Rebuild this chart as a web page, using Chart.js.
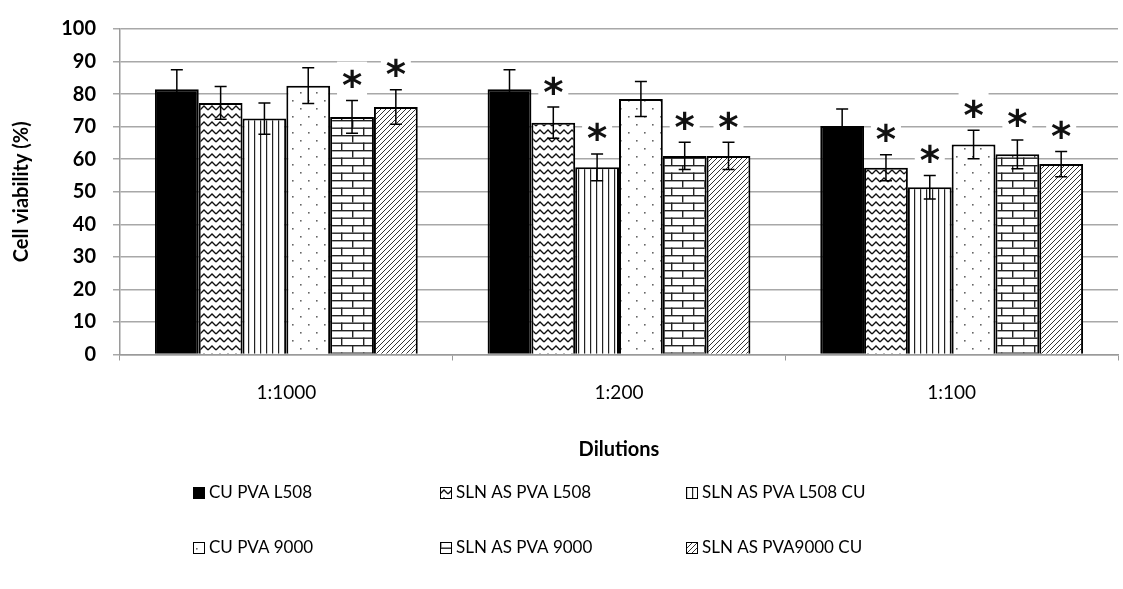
<!DOCTYPE html>
<html>
<head>
<meta charset="utf-8">
<script src="https://cdn.jsdelivr.net/npm/chart.js@4.4.1/dist/chart.umd.min.js"></script>
<style>
  html, body { margin: 0; padding: 0; background: #fff; }
  #wrap { width: 1123px; height: 589px; }
</style>
</head>
<body>
<div id="wrap"><canvas id="chart" width="1123" height="589"></canvas></div>
<script>
// categories
const dilutions = ["1:1000", "1:200", "1:100"];

// series names
const seriesNames = ["CU PVA L508", "SLN AS PVA L508", "SLN AS PVA L508 CU",
                     "CU PVA 9000", "SLN AS PVA 9000", "SLN AS PVA9000 CU"];

// mean cell viability (%)
const cuPvaL508      = [81.5, 81.5, 70.2];
const slnPvaL508     = [77.3, 71.2, 57.4];
const slnPvaL508Cu   = [72.5, 57.5, 51.4];
const cuPva9000      = [82.6, 78.5, 64.5];
const slnPva9000     = [73.0, 61.0, 61.5];
const slnPva9000Cu   = [76.0, 61.0, 58.5];

// standard deviations
const cuPvaL508Sd    = [6.0, 6.0, 5.2];
const slnPvaL508Sd   = [5.0, 4.8, 4.0];
const slnPvaL508CuSd = [4.8, 4.1, 3.6];
const cuPva9000Sd    = [5.5, 5.4, 4.4];
const slnPva9000Sd   = [5.0, 4.2, 4.4];
const slnPva9000CuSd = [5.3, 4.2, 3.9];

// significance marks (1 = asterisk)
const cuPvaL508Sig    = [0, 0, 0];
const slnPvaL508Sig   = [0, 1, 1];
const slnPvaL508CuSig = [0, 1, 1];
const cuPva9000Sig    = [0, 0, 1];
const slnPva9000Sig   = [1, 1, 1];
const slnPva9000CuSig = [1, 1, 1];

// y ticks
const yMin = 0, yMax = 100, yStep = 10;

const FONT = "Lato, 'Open Sans', sans-serif";

//--- fill patterns, like the old excel ones
function makePattern(w, h, draw){
    const c = document.createElement("canvas");
    c.width = w; c.height = h;
    const g = c.getContext("2d");
    g.fillStyle = "#fff";
    g.fillRect(0, 0, w, h);
    draw(g);
    return c.getContext("2d").createPattern(c, "repeat");
}

const patSolid = "#000";
const patZigzag = makePattern(8, 8, g => {
    g.strokeStyle = "#111"; g.lineWidth = 1.3;
    g.beginPath(); g.moveTo(0, 6); g.lineTo(4, 2); g.lineTo(8, 6); g.stroke();
});
const patVertical = makePattern(6, 4, g => {
    g.fillStyle = "#222"; g.fillRect(2, 0, 1.2, 4);
});
const patDots = makePattern(16, 16, g => {
    g.fillStyle = "#666";
    g.fillRect(4, 4, 1.6, 1.6);
    g.fillRect(12, 12, 1.6, 1.6);
});
const patBrick = makePattern(22, 15, g => {
    g.fillStyle = "#222";
    g.fillRect(0, 0, 22, 1.4);
    g.fillRect(0, 7.5, 22, 1.4);
    g.fillRect(0, 0, 1.4, 7.5);
    g.fillRect(11, 7.5, 1.4, 7.5);
});
const patDiagonal = makePattern(5, 5, g => {
    g.strokeStyle = "#333"; g.lineWidth = 1;
    g.beginPath();
    g.moveTo(-1, 6); g.lineTo(6, -1);
    g.moveTo(-1, 1); g.lineTo(1, -1);
    g.moveTo(4, 6); g.lineTo(6, 4);
    g.stroke();
});

const values = [cuPvaL508, slnPvaL508, slnPvaL508Cu, cuPva9000, slnPva9000, slnPva9000Cu];
const sds = [cuPvaL508Sd, slnPvaL508Sd, slnPvaL508CuSd, cuPva9000Sd, slnPva9000Sd, slnPva9000CuSd];
const sigs = [cuPvaL508Sig, slnPvaL508Sig, slnPvaL508CuSig, cuPva9000Sig, slnPva9000Sig, slnPva9000CuSig];
const fills = [patSolid, patZigzag, patVertical, patDots, patBrick, patDiagonal];

const datasets = values.map((v, i) => ({
    label: seriesNames[i],
    data: v,
    sd: sds[i],
    sig: sigs[i],
    backgroundColor: fills[i],
    borderColor: "#000",
    borderWidth: 2,
    borderSkipped: "bottom"
}));

//error bars + asterisks
const errorBars = {
    id: "errorBars",
    afterDatasetsDraw(chart){
        const ctx = chart.ctx;
        const y = chart.scales.y;
        ctx.save();
        // size the asterisk so it's about 19px wide
        ctx.font = "bold 100px 'DejaVu Sans'";
        const m = ctx.measureText("*");
        const starSize = 100 * 19 / (m.actualBoundingBoxLeft + m.actualBoundingBoxRight);
        chart.data.datasets.forEach((ds, i) => {
            const meta = chart.getDatasetMeta(i);
            meta.data.forEach((bar, j) => {
                const v = ds.data[j], sd = ds.sd[j];
                const top = y.getPixelForValue(v + sd);
                const bot = y.getPixelForValue(v - sd);
                ctx.strokeStyle = "#000";
                ctx.lineWidth = 1.5;
                ctx.beginPath();
                ctx.moveTo(bar.x, top); ctx.lineTo(bar.x, bot);
                ctx.moveTo(bar.x - 6, top); ctx.lineTo(bar.x + 6, top);
                ctx.moveTo(bar.x - 6, bot); ctx.lineTo(bar.x + 6, bot);
                ctx.stroke();
                if(ds.sig[j]){
                    const cy = top - 22;
                    ctx.fillStyle = "#fff";
                    ctx.fillRect(bar.x - 15, cy - 17, 30, 34);
                    ctx.font = "bold " + starSize + "px 'DejaVu Sans'";
                    const mm = ctx.measureText("*");
                    ctx.fillStyle = "#111";
                    ctx.textAlign = "center";
                    ctx.textBaseline = "alphabetic";
                    ctx.fillText("*", bar.x, cy + (mm.actualBoundingBoxAscent - mm.actualBoundingBoxDescent) / 2);
                }
            });
        });
        ctx.restore();
    }
};

// legend in two rows of three, like the original
const gridLegend = {
    id: "gridLegend",
    afterDraw(chart){
        const ctx = chart.ctx;
        const colX = [193, 440, 686];
        const rowY = [493, 548];
        ctx.save();
        ctx.font = "17px " + FONT;
        ctx.textBaseline = "middle";
        ctx.textAlign = "left";
        chart.data.datasets.forEach((ds, i) => {
            const x = colX[i % 3], yy = rowY[Math.floor(i / 3)];
            ctx.fillStyle = ds.backgroundColor;
            ctx.fillRect(x, yy - 6, 12, 12);
            ctx.strokeStyle = "#000";
            ctx.lineWidth = 1;
            ctx.strokeRect(x + 0.5, yy - 5.5, 11, 11);
            ctx.fillStyle = "#000";
            ctx.fillText(ds.label, x + 16, yy);
        });
        ctx.restore();
    }
};

new Chart(document.getElementById("chart"), {
    type: "bar",
    data: { labels: dilutions, datasets },
    options: {
        responsive: false,
        animation: false,
        layout: { padding: { top: 21, right: 5, bottom: 127, left: 0 } },
        datasets: { bar: { categoryPercentage: 0.79, barPercentage: 1.0 } },
        plugins: {
            legend: { display: false },
            tooltip: { enabled: false }
        },
        scales: {
            x: {
                afterFit(s){ s.height = 107.5; },
                grid: { offset: true, drawOnChartArea: false, drawTicks: true, tickLength: 6, color: "#9a9a9a", lineWidth: 1 },
                border: { display: true, color: "#9a9a9a", width: 1.5 },
                ticks: { color: "#000", font: { family: FONT, size: 19 }, padding: 21 },
                title: { display: true, text: "Dilutions", color: "#000",
                         font: { family: FONT, size: 20, weight: "bold" }, padding: { top: 0, bottom: 0 } }
            },
            y: {
                min: yMin, max: yMax,
                afterFit(s){ s.width = 120; },
                grid: { color: "#a8a8a8", lineWidth: 1.5, tickLength: 7 },
                border: { display: true, color: "#9a9a9a", width: 1.5 },
                ticks: { stepSize: yStep, color: "#000", padding: 17,
                         font: { family: FONT, size: 20, weight: "bold" } },
                title: { display: true, text: "Cell viability (%)", color: "#000",
                         font: { family: FONT, size: 20, weight: "bold" }, padding: { top: 10, bottom: 0 } }
            }
        }
    },
    plugins: [errorBars, gridLegend]
});
</script>
</body>
</html>
